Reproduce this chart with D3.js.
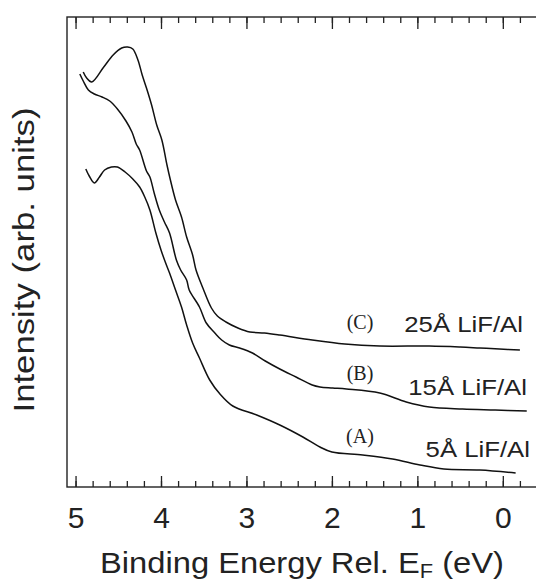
<!DOCTYPE html>
<html>
<head>
<meta charset="utf-8">
<script src="https://cdn.jsdelivr.net/npm/d3@7"></script>
<style>
  body { margin: 0; background: #fff; }
  svg { display: block; }
</style>
</head>
<body>
<svg id="chart" width="536" height="581"></svg>
<script>
// binding energy (eV) and intensity (arb. units)
var energy_A = [4.88, 4.84, 4.78, 4.72, 4.66, 4.58, 4.51, 4.42, 4.33, 4.25, 4.19, 4.13, 4.06, 4.00, 3.95, 3.90, 3.83, 3.76, 3.70, 3.63, 3.55, 3.43, 3.31, 3.16, 2.88, 2.61, 2.34, 2.14, 2.00, 1.64, 1.29, 0.97, 0.69, 0.27, -0.15];
var intensity_A = [318, 311, 304, 310, 317, 320, 320, 315, 308, 300, 290, 277, 254, 237, 225, 214, 197, 180, 162, 144, 129, 107, 93, 81, 72, 62, 50, 40, 35, 32, 28, 22, 18, 17, 14];

var energy_B = [4.95, 4.91, 4.85, 4.78, 4.69, 4.60, 4.51, 4.41, 4.34, 4.29, 4.25, 4.17, 4.13, 4.08, 4.02, 3.96, 3.90, 3.82, 3.77, 3.70, 3.67, 3.55, 3.47, 3.37, 3.29, 3.20, 3.08, 2.93, 2.78, 2.61, 2.42, 2.23, 2.14, 1.99, 1.83, 1.44, 1.13, 0.86, 0.47, 0.09, -0.28];
var intensity_B = [413, 406, 397, 393, 390, 386, 378, 366, 355, 343, 337, 316, 310, 294, 277, 265, 254, 227, 217, 207, 197, 180, 164, 154, 147, 142, 139, 134, 126, 118, 110, 102, 100, 99, 98, 94, 85, 80, 78, 77, 76];

var energy_C = [4.91, 4.87, 4.81, 4.67, 4.56, 4.46, 4.39, 4.33, 4.27, 4.22, 4.17, 4.11, 4.05, 3.99, 3.93, 3.89, 3.83, 3.76, 3.70, 3.63, 3.59, 3.51, 3.41, 3.34, 3.24, 3.10, 2.96, 2.79, 2.61, 2.23, 1.85, 1.44, 0.86, 0.50, 0.27, 0.04, -0.20];
var intensity_C = [415, 409, 405, 420, 432, 439, 440, 438, 427, 412, 399, 382, 362, 347, 322, 307, 287, 270, 250, 232, 217, 199, 179, 171, 165, 159, 155, 154, 152, 147, 143, 141, 141, 140, 139, 138, 137];

var x_ticks = [5, 4, 3, 2, 1, 0];
var x_minor = d3.range(50, -3, -2).map(function (d) { return d / 10; });

var curve_names = ['(A)', '(B)', '(C)'];
var sample_names = ['5Å LiF/Al', '15Å LiF/Al', '25Å LiF/Al'];

var svg = d3.select('#chart');

var x = d3.scaleLinear().domain([5.1, -0.4]).range([67, 537]);
var y = d3.scaleLinear().domain([0, 470]).range([487, 17]);

var line = d3.line()
    .x(function (d) { return x(d[0]); })
    .y(function (d) { return y(d[1]); })
    .curve(d3.curveCatmullRom.alpha(0.5));

var series = [
    d3.zip(energy_A, intensity_A),
    d3.zip(energy_B, intensity_B),
    d3.zip(energy_C, intensity_C)
];

svg.selectAll('path.spectrum')
    .data(series)
    .enter()
    .append('path')
    .attr('class', 'spectrum')
    .attr('d', line)
    .attr('fill', 'none')
    .attr('stroke', '#111')
    .attr('stroke-width', 1.5);

// frame (the right side runs off the picture)
svg.append('rect')
    .attr('x', 67)
    .attr('y', 17)
    .attr('width', 480)
    .attr('height', 470)
    .attr('fill', 'none')
    .attr('stroke', '#222')
    .attr('stroke-width', 1.4);

// inward ticks top and bottom
function tick_axis(axis, ty, size, values) {
    var g = svg.append('g')
        .attr('transform', 'translate(0,' + ty + ')')
        .call(axis.tickValues(values).tickSize(size).tickFormat(''));
    g.select('.domain').remove();
    g.selectAll('line').attr('stroke', '#222').attr('stroke-width', 1.3);
    return g;
}
tick_axis(d3.axisTop(x), 17, -6, x_minor);
tick_axis(d3.axisTop(x), 17, -12, x_ticks);
tick_axis(d3.axisBottom(x), 487, -6, x_minor);

var bottom = svg.append('g')
    .attr('transform', 'translate(0,487)')
    .call(d3.axisBottom(x).tickValues(x_ticks).tickSize(-11).tickPadding(20).tickFormat(d3.format('d')));
bottom.select('.domain').remove();
bottom.selectAll('line').attr('stroke', '#222').attr('stroke-width', 1.3);
bottom.selectAll('text')
    .attr('font-family', 'Liberation Sans, Arial, sans-serif')
    .attr('font-size', 30)
    .attr('fill', '#222');

// axis titles
var xlabel = svg.append('text')
    .attr('x', 302)
    .attr('y', 573)
    .attr('text-anchor', 'middle')
    .attr('font-family', 'Liberation Sans, Arial, sans-serif')
    .attr('font-size', 30)
    .attr('fill', '#222')
    .attr('textLength', 404)
    .attr('lengthAdjust', 'spacingAndGlyphs');
xlabel.append('tspan').text('Binding Energy Rel. E');
xlabel.append('tspan').attr('font-size', 20).attr('dy', 5).text('F');
xlabel.append('tspan').attr('dy', -5).text(' (eV)');

svg.append('text')
    .attr('transform', 'translate(34,260) rotate(-90)')
    .attr('text-anchor', 'middle')
    .attr('font-family', 'Liberation Sans, Arial, sans-serif')
    .attr('font-size', 30)
    .attr('fill', '#222')
    .attr('textLength', 305)
    .attr('lengthAdjust', 'spacingAndGlyphs')
    .text('Intensity (arb. units)');

// curve labels
var letter_y = [443, 380, 329];
var name_y = [457, 395, 332];
var name_end = [530, 527, 523];

svg.selectAll('text.letter')
    .data(curve_names)
    .enter()
    .append('text')
    .attr('class', 'letter')
    .attr('x', 360)
    .attr('y', function (d, i) { return letter_y[i]; })
    .attr('text-anchor', 'middle')
    .attr('font-family', 'Liberation Serif, Times New Roman, serif')
    .attr('font-size', 20)
    .attr('fill', '#222')
    .text(function (d) { return d; });

svg.selectAll('text.sample')
    .data(sample_names)
    .enter()
    .append('text')
    .attr('class', 'sample')
    .attr('transform', function (d, i) {
        return 'translate(' + name_end[i] + ',' + name_y[i] + ') scale(1.17,1)';
    })
    .attr('text-anchor', 'end')
    .attr('font-family', 'Liberation Sans, Arial, sans-serif')
    .attr('font-size', 22)
    .attr('fill', '#222')
    .text(function (d) { return d; });
</script>
</body>
</html>
